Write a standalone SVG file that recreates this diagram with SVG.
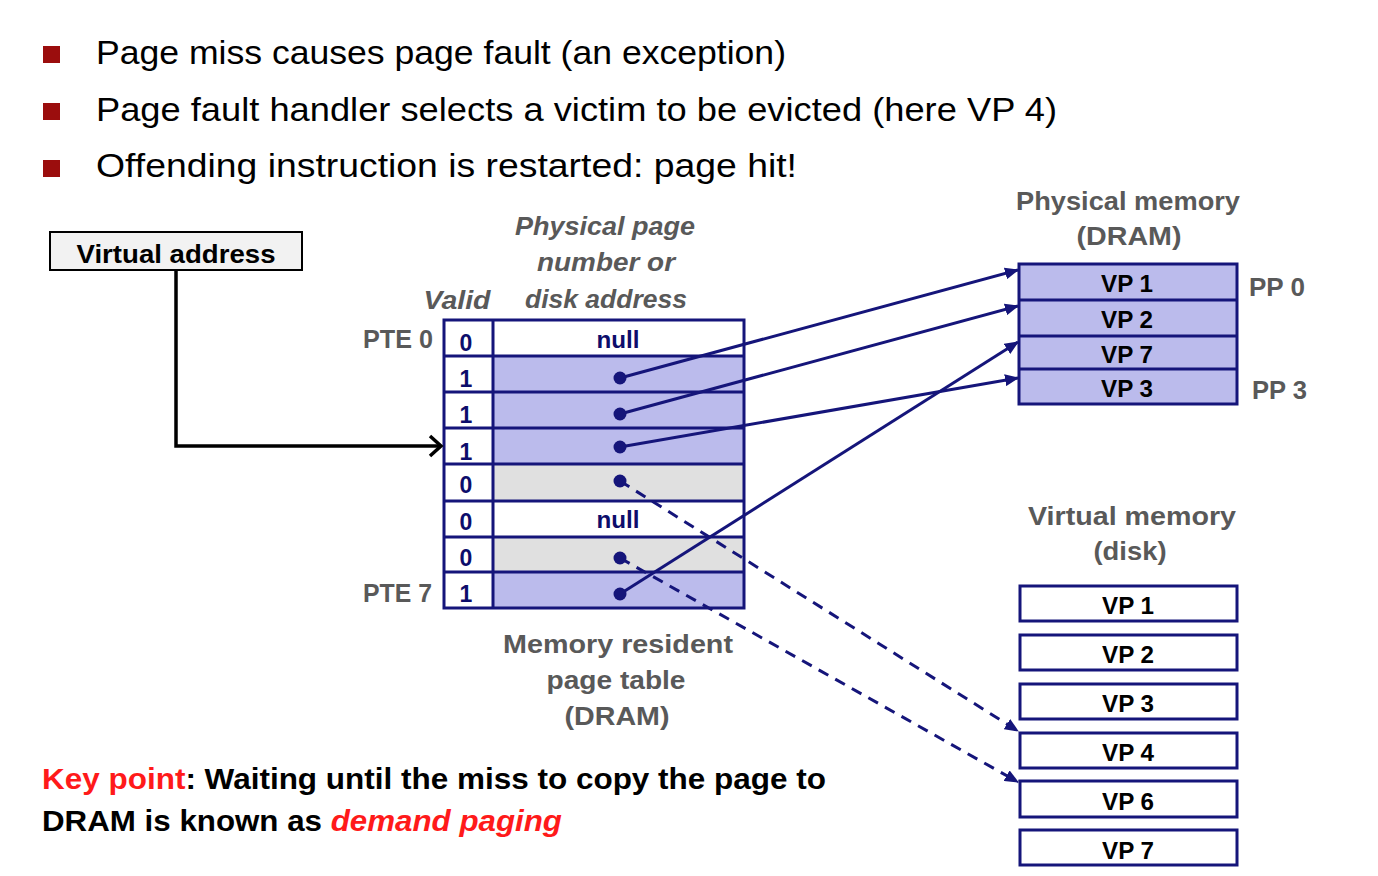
<svg xmlns="http://www.w3.org/2000/svg" width="1378" height="876" viewBox="0 0 1378 876">
<defs>
<style>
text{font-family:"Liberation Sans","Open Sans",Arial,sans-serif;}
.blt{font-size:33px;fill:#000;}
.g{font-size:26px;font-weight:bold;fill:#595959;}
.gi{font-size:26px;font-weight:bold;font-style:italic;fill:#595959;}
.num{font-size:23px;font-weight:bold;fill:#0d0d6b;text-anchor:middle;}
.vp{font-size:24px;font-weight:bold;fill:#000;text-anchor:middle;}
.mid{text-anchor:middle;}
.cell{stroke:#15157a;stroke-width:3;}
.conn{stroke:#15157a;stroke-width:3;fill:none;}
.dash{stroke:#15157a;stroke-width:3;fill:none;stroke-dasharray:11 8;}
.dot{fill:#15157a;}
.key{font-size:30px;font-weight:bold;fill:#000;}
.red{fill:#ff1a1a;}
</style>
<marker id="ah" markerUnits="userSpaceOnUse" markerWidth="14" markerHeight="12" refX="13" refY="6" orient="auto">
<path d="M0,0 L14,6 L0,12 z" fill="#15157a"/>
</marker>
</defs>
<rect width="1378" height="876" fill="#fff"/>

<g id="bullets">
<rect x="43" y="46" width="17" height="17" fill="#9b0d0d"/>
<rect x="43" y="103" width="17" height="17" fill="#9b0d0d"/>
<rect x="43" y="160" width="17" height="17" fill="#9b0d0d"/>
<text class="blt" x="96" y="64" textLength="690" lengthAdjust="spacingAndGlyphs">Page miss causes page fault (an exception)</text>
<text class="blt" x="96" y="121" textLength="961" lengthAdjust="spacingAndGlyphs">Page fault handler selects a victim to be evicted (here VP 4)</text>
<text class="blt" x="96" y="177" textLength="701" lengthAdjust="spacingAndGlyphs">Offending instruction is restarted: page hit!</text>
</g>

<g id="virtual-address">
<rect x="50" y="232" width="252" height="38" fill="#f2f2f2" stroke="#000" stroke-width="2"/>
<text x="176" y="263" font-size="26" font-weight="bold" text-anchor="middle" textLength="199" lengthAdjust="spacingAndGlyphs">Virtual address</text>
</g>

<g id="page-table">
<text class="gi mid" x="605" y="235" textLength="180" lengthAdjust="spacingAndGlyphs">Physical page</text>
<text class="gi mid" x="606" y="271" textLength="138" lengthAdjust="spacingAndGlyphs">number or</text>
<text class="gi mid" x="606" y="308" textLength="162" lengthAdjust="spacingAndGlyphs">disk address</text>
<text class="gi mid" x="457" y="309" textLength="67" lengthAdjust="spacingAndGlyphs">Valid</text>
<text class="g" x="363" y="348" textLength="70" lengthAdjust="spacingAndGlyphs">PTE 0</text>
<text class="g" x="363" y="602" textLength="69" lengthAdjust="spacingAndGlyphs">PTE 7</text>

<rect x="493" y="320" width="251" height="36" fill="#fff"/>
<rect x="493" y="356" width="251" height="108" fill="#bbbbec"/>
<rect x="493" y="464" width="251" height="37" fill="#e0e0e0"/>
<rect x="493" y="501" width="251" height="36" fill="#fff"/>
<rect x="493" y="537" width="251" height="35" fill="#e0e0e0"/>
<rect x="493" y="572" width="251" height="36" fill="#bbbbec"/>
<g class="cell" fill="none">
<rect x="444" y="320" width="300" height="288"/>
<line x1="493" y1="320" x2="493" y2="608"/>
<line x1="444" y1="356" x2="744" y2="356"/>
<line x1="444" y1="392" x2="744" y2="392"/>
<line x1="444" y1="428" x2="744" y2="428"/>
<line x1="444" y1="464" x2="744" y2="464"/>
<line x1="444" y1="501" x2="744" y2="501"/>
<line x1="444" y1="537" x2="744" y2="537"/>
<line x1="444" y1="572" x2="744" y2="572"/>
</g>
<text class="num" x="466" y="351">0</text>
<text class="num" x="466" y="387">1</text>
<text class="num" x="466" y="423">1</text>
<text class="num" x="466" y="460">1</text>
<text class="num" x="466" y="493">0</text>
<text class="num" x="466" y="530">0</text>
<text class="num" x="466" y="566">0</text>
<text class="num" x="466" y="602">1</text>
<text class="num" x="618" y="348" textLength="43" lengthAdjust="spacingAndGlyphs">null</text>
<text class="num" x="618" y="528" textLength="43" lengthAdjust="spacingAndGlyphs">null</text>
<text class="g mid" x="618" y="653" textLength="230" lengthAdjust="spacingAndGlyphs">Memory resident</text>
<text class="g mid" x="616" y="689" textLength="139" lengthAdjust="spacingAndGlyphs">page table</text>
<text class="g mid" x="617" y="725" textLength="105" lengthAdjust="spacingAndGlyphs">(DRAM)</text>
</g>

<g id="physical-memory">
<text class="g mid" x="1128" y="210" textLength="224" lengthAdjust="spacingAndGlyphs">Physical memory</text>
<text class="g mid" x="1129" y="245" textLength="105" lengthAdjust="spacingAndGlyphs">(DRAM)</text>
<rect x="1019" y="264" width="218" height="140" fill="#bbbbec" class="cell"/>
<g class="cell">
<line x1="1019" y1="300" x2="1237" y2="300"/>
<line x1="1019" y1="336" x2="1237" y2="336"/>
<line x1="1019" y1="369" x2="1237" y2="369"/>
</g>
<text class="vp" x="1127" y="292" textLength="52" lengthAdjust="spacingAndGlyphs">VP 1</text>
<text class="vp" x="1127" y="328" textLength="52" lengthAdjust="spacingAndGlyphs">VP 2</text>
<text class="vp" x="1127" y="363" textLength="52" lengthAdjust="spacingAndGlyphs">VP 7</text>
<text class="vp" x="1127" y="397" textLength="52" lengthAdjust="spacingAndGlyphs">VP 3</text>
<text class="g" x="1249" y="296" textLength="56" lengthAdjust="spacingAndGlyphs">PP 0</text>
<text class="g" x="1252" y="399" textLength="55" lengthAdjust="spacingAndGlyphs">PP 3</text>
</g>

<g id="virtual-memory">
<text class="g mid" x="1132" y="525" textLength="208" lengthAdjust="spacingAndGlyphs">Virtual memory</text>
<text class="g mid" x="1130" y="560" textLength="73" lengthAdjust="spacingAndGlyphs">(disk)</text>
<g fill="#fff" class="cell">
<rect x="1020" y="586" width="217" height="35"/>
<rect x="1020" y="635" width="217" height="35"/>
<rect x="1020" y="684" width="217" height="35"/>
<rect x="1020" y="733" width="217" height="35"/>
<rect x="1020" y="781" width="217" height="36"/>
<rect x="1020" y="830" width="217" height="35"/>
</g>
<text class="vp" x="1128" y="614" textLength="52" lengthAdjust="spacingAndGlyphs">VP 1</text>
<text class="vp" x="1128" y="663" textLength="52" lengthAdjust="spacingAndGlyphs">VP 2</text>
<text class="vp" x="1128" y="712" textLength="52" lengthAdjust="spacingAndGlyphs">VP 3</text>
<text class="vp" x="1128" y="761" textLength="52" lengthAdjust="spacingAndGlyphs">VP 4</text>
<text class="vp" x="1128" y="810" textLength="52" lengthAdjust="spacingAndGlyphs">VP 6</text>
<text class="vp" x="1128" y="859" textLength="52" lengthAdjust="spacingAndGlyphs">VP 7</text>
</g>

<g id="connectors">
<polyline points="176,271 176,446 440,446" fill="none" stroke="#000" stroke-width="3.5"/>
<polyline points="430,436 441,446 430,456" fill="none" stroke="#000" stroke-width="3.5"/>
<line class="conn" x1="620" y1="378" x2="1018" y2="270" marker-end="url(#ah)"/>
<line class="conn" x1="620" y1="414" x2="1018" y2="306" marker-end="url(#ah)"/>
<line class="conn" x1="620" y1="447" x2="1018" y2="378" marker-end="url(#ah)"/>
<line class="conn" x1="620" y1="594" x2="1018" y2="342" marker-end="url(#ah)"/>
<line class="dash" x1="620" y1="481" x2="1018" y2="731" marker-end="url(#ah)"/>
<line class="dash" x1="620" y1="558" x2="1018" y2="782" marker-end="url(#ah)"/>
<circle class="dot" cx="620" cy="378" r="6.5"/>
<circle class="dot" cx="620" cy="414" r="6.5"/>
<circle class="dot" cx="620" cy="447" r="6.5"/>
<circle class="dot" cx="620" cy="481" r="6.5"/>
<circle class="dot" cx="620" cy="558" r="6.5"/>
<circle class="dot" cx="620" cy="594" r="6.5"/>
</g>

<g id="key-point">
<text class="key" x="42" y="789" textLength="784" lengthAdjust="spacingAndGlyphs"><tspan class="red">Key point</tspan>: Waiting until the miss to copy the page to</text>
<text class="key" x="42" y="831" textLength="520" lengthAdjust="spacingAndGlyphs">DRAM is known as <tspan class="red" font-style="italic">demand paging</tspan></text>
</g>
</svg>
